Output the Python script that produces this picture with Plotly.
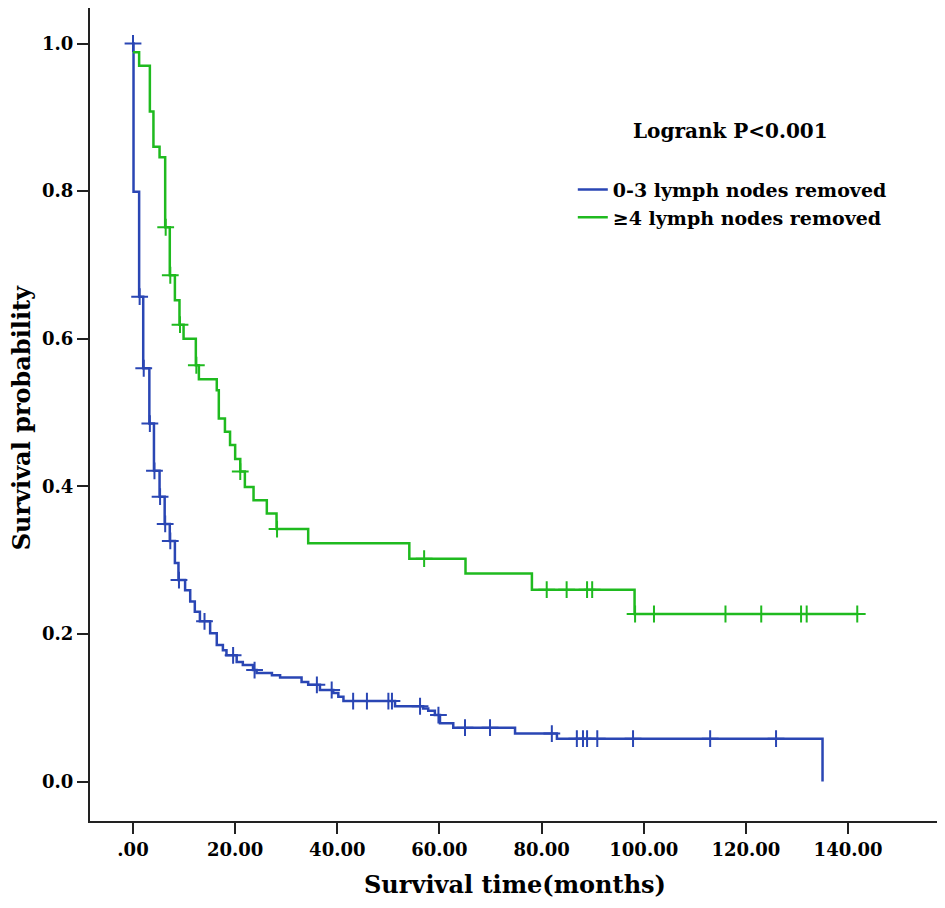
import plotly.graph_objects as go

# Kaplan-Meier step data
low_times = [0, 0.1, 1.2, 2.0, 3.2, 4.1, 5.2, 6.2, 7.2, 8.2, 8.9, 10.2, 11.2, 12.1, 13.1,
             15.1, 16.4, 17.6, 18.3, 20.3, 21.5, 23.5, 24.2, 27.2, 28.8, 33.0, 34.3, 36.6,
             39.2, 40.2, 41.2, 51.3, 56.8, 57.8, 59.1, 60.1, 62.7, 74.8, 83.0, 135.0]
low_surv = [1.0, 0.799, 0.657, 0.560, 0.485, 0.421, 0.386, 0.349, 0.326, 0.296, 0.273, 0.259,
            0.244, 0.230, 0.217, 0.201, 0.185, 0.178, 0.171, 0.162, 0.158, 0.151, 0.147, 0.144,
            0.141, 0.135, 0.131, 0.124, 0.120, 0.115, 0.109, 0.102, 0.099, 0.096, 0.090, 0.079,
            0.073, 0.065, 0.058, 0.0]
low_censored = [0, 1.3, 2.1, 3.3, 4.2, 5.3, 6.3, 7.3, 9.0, 14.0, 19.6, 23.8, 36.0, 38.9, 43.1,
                45.8, 50.0, 50.7, 56.2, 59.8, 65.0, 69.9, 82.0, 86.9, 88.1, 88.9, 90.9, 97.9,
                113.0, 125.9]

high_times = [0, 1.2, 3.3, 4.0, 5.2, 6.3, 7.2, 8.2, 9.1, 9.9, 12.3, 12.9, 16.4, 16.8, 18.0,
              19.0, 20.0, 21.0, 21.9, 23.6, 26.2, 28.1, 34.3, 54.1, 65.1, 78.1, 98.2]
high_surv = [0.988, 0.970, 0.908, 0.860, 0.846, 0.751, 0.686, 0.652, 0.619, 0.600, 0.564, 0.545,
             0.530, 0.492, 0.474, 0.456, 0.437, 0.420, 0.399, 0.381, 0.363, 0.342, 0.323, 0.302,
             0.282, 0.260, 0.227]
high_censored = [6.4, 7.3, 9.2, 12.4, 21.0, 28.2, 57.0, 81.0, 84.9, 88.9, 89.9, 98.3, 102.0,
                 116.0, 123.0, 130.8, 131.9, 141.8]
high_end = 142.0

x_ticks = [0, 20, 40, 60, 80, 100, 120, 140]
x_ticklabels = [".00", "20.00", "40.00", "60.00", "80.00", "100.00", "120.00", "140.00"]
y_ticks = [0.0, 0.2, 0.4, 0.6, 0.8, 1.0]
y_ticklabels = ["0.0", "0.2", "0.4", "0.6", "0.8", "1.0"]

BLUE = "#2a46b4"
GREEN = "#1fba1f"
FONT = "DejaVu Serif"


def step_value(times, surv, t):
    v = surv[0]
    for ti, si in zip(times, surv):
        if ti <= t:
            v = si
    return v


fig = go.Figure()

groups = [
    ("0-3 lymph nodes removed", low_times, low_surv, low_censored, low_times[-1], BLUE),
    ("≥4 lymph nodes removed", high_times, high_surv, high_censored, high_end, GREEN),
]
for name, times, surv, cens, end, col in groups:
    xs = list(times)
    ys = list(surv)
    if end > xs[-1]:
        xs.append(end)
        ys.append(surv[-1])
    fig.add_trace(go.Scatter(x=xs, y=ys, mode="lines", line_shape="hv",
                             line=dict(color=col, width=2.5), name=name))
    fig.add_trace(go.Scatter(x=cens, y=[step_value(times, surv, c) for c in cens],
                             mode="markers", showlegend=False,
                             marker=dict(symbol="cross-thin", size=12,
                                         line=dict(color=col, width=2))))

fig.add_annotation(text="Logrank P<0.001", x=0.753, y=0.849, xref="paper", yref="paper",
                   xanchor="center", yanchor="middle", showarrow=False,
                   font=dict(family=FONT, size=20, color="black", weight="bold"))
# y axis title
fig.add_annotation(text="Survival probability", x=-0.0805, y=0.496, xref="paper", yref="paper",
                   xanchor="center", yanchor="middle", textangle=-90, showarrow=False,
                   font=dict(family=FONT, size=24, color="black", weight="bold"))

fig.update_xaxes(range=[-8.42, 158.0], tickvals=x_ticks, ticktext=x_ticklabels,
                 showline=True, mirror=True, linecolor="#222", linewidth=2,
                 ticks="outside", ticklen=11, tickwidth=2, tickcolor="#222",
                 showgrid=False, zeroline=False, automargin=False,
                 tickfont=dict(family=FONT, size=18, color="black", weight="bold"),
                 title=dict(text="Survival time(months)", standoff=18,
                            font=dict(family=FONT, size=24, color="black", weight="bold")))
fig.update_yaxes(range=[-0.0535, 1.0481], tickvals=y_ticks, ticktext=y_ticklabels,
                 showline=True, mirror=True, linecolor="#222", linewidth=2,
                 ticks="outside", ticklen=11, tickwidth=2, tickcolor="#222",
                 showgrid=False, zeroline=False, automargin=False,
                 tickfont=dict(family=FONT, size=18, color="black", weight="bold"))

fig.update_layout(width=937, height=900, margin=dict(l=82, r=5, t=0, b=87),
                  plot_bgcolor="white", paper_bgcolor="white",
                  legend=dict(x=0.568, y=0.80, xanchor="left", yanchor="top",
                              bgcolor="rgba(0,0,0,0)", itemwidth=30, tracegroupgap=0,
                              font=dict(family=FONT, size=19, color="black", weight="bold")))

fig.write_html("out.html")
